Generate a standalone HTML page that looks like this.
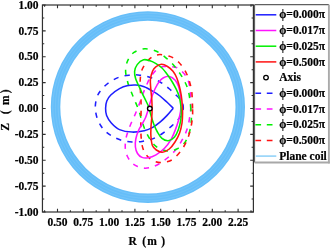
<!DOCTYPE html>
<html><head><meta charset="utf-8"><style>
html,body{margin:0;padding:0;background:#fff;width:330px;height:248px;overflow:hidden}
svg{display:block}
text{font-family:"Liberation Serif",serif;font-weight:bold;font-size:11.5px;fill:#000;stroke:#000;stroke-width:0.2px}
</style></head><body>
<svg width="330" height="248" viewBox="0 0 330 248">
<defs><filter id="nf" x="0" y="0" width="330" height="248" filterUnits="userSpaceOnUse"><feOffset/></filter></defs>
<rect width="330" height="248" fill="#fff"/>
<ellipse cx="147.9" cy="107.1" rx="92.35" ry="91.1" fill="none" stroke="#66BEF9" stroke-width="9.5"/>
<ellipse cx="147.9" cy="107.1" rx="89.75" ry="88.50" fill="none" stroke="#A8DBFB" stroke-width="0.8" stroke-opacity="0.30"/>
<ellipse cx="147.9" cy="107.1" rx="92.55" ry="91.30" fill="none" stroke="#A8DBFB" stroke-width="0.8" stroke-opacity="0.22"/>
<ellipse cx="147.9" cy="107.1" rx="95.15" ry="93.90" fill="none" stroke="#A8DBFB" stroke-width="0.8" stroke-opacity="0.30"/>
<path d="M183.30,108.50 C183.52,106.33 182.98,104.22 182.30,102.50 C181.62,100.78 180.33,99.52 179.20,98.20 C178.07,96.88 177.12,96.13 175.50,94.60 C173.88,93.07 171.70,90.87 169.50,89.00 C167.30,87.13 164.63,84.98 162.30,83.40 C159.97,81.82 158.05,80.67 155.50,79.50 C152.95,78.33 149.92,77.17 147.00,76.40 C144.08,75.63 140.98,75.10 138.00,74.90 C135.02,74.70 132.27,74.82 129.10,75.20 C125.93,75.58 122.32,76.00 119.00,77.20 C115.68,78.40 112.12,80.35 109.20,82.40 C106.28,84.45 103.53,87.07 101.50,89.50 C99.47,91.93 98.03,94.08 97.00,97.00 C95.97,99.92 95.33,103.67 95.30,107.00 C95.27,110.33 95.85,113.83 96.80,117.00 C97.75,120.17 99.43,123.50 101.00,126.00 C102.57,128.50 104.20,130.23 106.20,132.00 C108.20,133.77 110.48,135.23 113.00,136.60 C115.52,137.97 118.12,139.32 121.30,140.20 C124.48,141.08 128.65,141.70 132.10,141.90 C135.55,142.10 138.97,141.78 142.00,141.40 C145.03,141.02 147.72,140.40 150.30,139.60 C152.88,138.80 155.22,137.80 157.50,136.60 C159.78,135.40 161.83,134.00 164.00,132.40 C166.17,130.80 168.42,128.82 170.50,127.00 C172.58,125.18 174.75,123.42 176.50,121.50 C178.25,119.58 179.87,117.67 181.00,115.50 C182.13,113.33 183.08,110.67 183.30,108.50Z" fill="none" stroke="#1E1EFF" stroke-width="1.55" stroke-dasharray="5.20,6.238" stroke-dashoffset="0.40"/>
<path d="M190.70,108.50 C190.80,105.17 190.82,98.92 190.60,95.00 C190.38,91.08 190.03,87.90 189.40,85.00 C188.77,82.10 187.90,79.73 186.80,77.60 C185.70,75.47 184.38,73.83 182.80,72.20 C181.22,70.57 179.35,68.73 177.30,67.80 C175.25,66.87 172.80,66.80 170.50,66.60 C168.20,66.40 165.33,66.40 163.50,66.60 C161.67,66.80 160.83,67.10 159.50,67.80 C158.17,68.50 156.98,69.27 155.50,70.80 C154.02,72.33 152.03,74.75 150.60,77.00 C149.17,79.25 148.05,81.80 146.90,84.30 C145.75,86.80 144.72,89.35 143.70,92.00 C142.68,94.65 141.80,97.53 140.80,100.20 C139.80,102.87 138.80,105.27 137.70,108.00 C136.60,110.73 135.38,113.85 134.20,116.60 C133.02,119.35 131.70,121.85 130.60,124.50 C129.50,127.15 128.42,129.92 127.60,132.50 C126.78,135.08 126.08,137.33 125.70,140.00 C125.32,142.67 125.05,145.83 125.30,148.50 C125.55,151.17 126.17,153.67 127.20,156.00 C128.23,158.33 129.77,160.75 131.50,162.50 C133.23,164.25 135.35,165.55 137.60,166.50 C139.85,167.45 142.52,168.13 145.00,168.20 C147.48,168.27 150.00,167.72 152.50,166.90 C155.00,166.08 157.42,164.87 160.00,163.30 C162.58,161.73 165.47,159.65 168.00,157.50 C170.53,155.35 173.00,153.05 175.20,150.40 C177.40,147.75 179.43,144.57 181.20,141.60 C182.97,138.63 184.58,135.53 185.80,132.60 C187.02,129.67 187.80,126.93 188.50,124.00 C189.20,121.07 189.63,117.58 190.00,115.00 C190.37,112.42 190.60,111.83 190.70,108.50Z" fill="none" stroke="#FF12FF" stroke-width="1.55" stroke-dasharray="5.20,6.190" stroke-dashoffset="0.31"/>
<path d="M190.80,108.50 C190.53,105.25 190.27,102.17 189.80,99.00 C189.33,95.83 188.87,92.45 188.00,89.50 C187.13,86.55 185.93,83.95 184.60,81.30 C183.27,78.65 181.85,76.32 180.00,73.60 C178.15,70.88 175.85,67.63 173.50,65.00 C171.15,62.37 168.75,60.08 165.90,57.80 C163.05,55.52 159.92,52.80 156.40,51.30 C152.88,49.80 148.53,48.62 144.80,48.80 C141.07,48.98 136.87,50.40 134.00,52.40 C131.13,54.40 129.00,57.78 127.60,60.80 C126.20,63.82 125.72,67.53 125.60,70.50 C125.48,73.47 126.38,76.08 126.90,78.60 C127.42,81.12 127.93,83.28 128.70,85.60 C129.47,87.92 130.57,90.18 131.50,92.50 C132.43,94.82 133.33,97.17 134.30,99.50 C135.27,101.83 136.43,104.33 137.30,106.50 C138.17,108.67 138.78,110.25 139.50,112.50 C140.22,114.75 140.80,117.42 141.60,120.00 C142.40,122.58 143.32,125.53 144.30,128.00 C145.28,130.47 146.27,132.50 147.50,134.80 C148.73,137.10 150.28,139.87 151.70,141.80 C153.12,143.73 154.37,145.10 156.00,146.40 C157.63,147.70 159.65,148.83 161.50,149.60 C163.35,150.37 165.27,150.83 167.10,151.00 C168.93,151.17 170.60,151.07 172.50,150.60 C174.40,150.13 176.58,149.37 178.50,148.20 C180.42,147.03 182.45,145.47 184.00,143.60 C185.55,141.73 186.75,139.52 187.80,137.00 C188.85,134.48 189.70,131.58 190.30,128.50 C190.90,125.42 191.32,121.83 191.40,118.50 C191.48,115.17 191.07,111.75 190.80,108.50Z" fill="none" stroke="#00F000" stroke-width="1.55" stroke-dasharray="5.20,6.200" stroke-dashoffset="0.93"/>
<path d="M192.60,108.50 C192.55,106.00 192.43,102.75 192.30,100.00 C192.17,97.25 192.13,94.58 191.80,92.00 C191.47,89.42 190.93,87.00 190.30,84.50 C189.67,82.00 189.00,79.50 188.00,77.00 C187.00,74.50 185.88,72.00 184.30,69.50 C182.72,67.00 180.80,64.15 178.50,62.00 C176.20,59.85 173.62,57.83 170.50,56.60 C167.38,55.37 162.88,54.53 159.80,54.60 C156.72,54.67 154.33,55.57 152.00,57.00 C149.67,58.43 147.53,60.87 145.80,63.20 C144.07,65.53 142.53,68.20 141.60,71.00 C140.67,73.80 140.40,76.83 140.20,80.00 C140.00,83.17 140.27,86.67 140.40,90.00 C140.53,93.33 140.88,96.67 141.00,100.00 C141.12,103.33 141.12,106.67 141.10,110.00 C141.08,113.33 140.95,116.67 140.90,120.00 C140.85,123.33 140.72,126.67 140.80,130.00 C140.88,133.33 141.07,137.00 141.40,140.00 C141.73,143.00 142.10,145.67 142.80,148.00 C143.50,150.33 144.47,152.28 145.60,154.00 C146.73,155.72 148.12,157.10 149.60,158.30 C151.08,159.50 152.72,160.48 154.50,161.20 C156.28,161.92 158.38,162.47 160.30,162.60 C162.22,162.73 163.97,162.52 166.00,162.00 C168.03,161.48 170.08,161.25 172.50,159.50 C174.92,157.75 178.22,154.42 180.50,151.50 C182.78,148.58 184.65,145.25 186.20,142.00 C187.75,138.75 188.87,135.25 189.80,132.00 C190.73,128.75 191.33,125.33 191.80,122.50 C192.27,119.67 192.47,117.33 192.60,115.00 C192.73,112.67 192.65,111.00 192.60,108.50Z" fill="none" stroke="#FF1212" stroke-width="1.55" stroke-dasharray="5.20,6.176" stroke-dashoffset="0.23"/>
<path d="M173.30,108.20 C172.27,109.40 169.27,113.12 167.10,115.40 C164.93,117.68 162.70,119.90 160.30,121.90 C157.90,123.90 155.38,125.93 152.70,127.40 C150.02,128.87 147.63,129.92 144.20,130.70 C140.77,131.48 136.22,132.28 132.10,132.10 C127.98,131.92 122.97,131.12 119.50,129.60 C116.03,128.08 113.45,125.35 111.30,123.00 C109.15,120.65 107.55,117.95 106.60,115.50 C105.65,113.05 105.57,110.72 105.60,108.30 C105.63,105.88 105.93,103.22 106.80,101.00 C107.67,98.78 108.68,97.07 110.80,95.00 C112.92,92.93 116.63,90.17 119.50,88.60 C122.37,87.03 125.25,86.20 128.00,85.60 C130.75,85.00 133.30,84.80 136.00,85.00 C138.70,85.20 141.42,85.77 144.20,86.80 C146.98,87.83 150.07,89.67 152.70,91.20 C155.33,92.73 157.60,94.15 160.00,96.00 C162.40,97.85 164.88,100.27 167.10,102.30 C169.32,104.33 172.27,107.22 173.30,108.20" fill="none" stroke="#1E1EFF" stroke-width="1.55"/>
<path d="M169.50,76.40 C171.45,76.80 173.68,78.52 175.20,80.20 C176.72,81.88 177.73,84.03 178.60,86.50 C179.47,88.97 180.02,92.08 180.40,95.00 C180.78,97.92 180.87,101.33 180.90,104.00 C180.93,106.67 180.98,108.33 180.60,111.00 C180.22,113.67 179.45,116.93 178.60,120.00 C177.75,123.07 176.77,126.13 175.50,129.40 C174.23,132.67 172.83,136.47 171.00,139.60 C169.17,142.73 167.00,145.67 164.50,148.20 C162.00,150.73 158.75,153.20 156.00,154.80 C153.25,156.40 150.33,157.37 148.00,157.80 C145.67,158.23 143.75,158.12 142.00,157.40 C140.25,156.68 138.60,155.23 137.50,153.50 C136.40,151.77 135.68,149.42 135.40,147.00 C135.12,144.58 135.25,141.83 135.80,139.00 C136.35,136.17 137.65,132.50 138.70,130.00 C139.75,127.50 140.95,126.08 142.10,124.00 C143.25,121.92 144.68,119.58 145.60,117.50 C146.52,115.42 146.90,113.78 147.60,111.50 C148.30,109.22 149.02,106.47 149.80,103.80 C150.58,101.13 151.40,98.05 152.30,95.50 C153.20,92.95 154.12,90.72 155.20,88.50 C156.28,86.28 157.42,83.98 158.80,82.20 C160.18,80.42 161.72,78.77 163.50,77.80 C165.28,76.83 167.55,76.00 169.50,76.40Z" fill="none" stroke="#FF12FF" stroke-width="1.55"/>
<path d="M143.60,59.80 C145.73,59.17 147.93,60.17 150.00,60.80 C152.07,61.43 154.00,62.40 156.00,63.60 C158.00,64.80 160.08,66.15 162.00,68.00 C163.92,69.85 165.78,72.37 167.50,74.70 C169.22,77.03 170.85,79.58 172.30,82.00 C173.75,84.42 175.08,86.87 176.20,89.20 C177.32,91.53 178.27,93.53 179.00,96.00 C179.73,98.47 180.22,101.33 180.60,104.00 C180.98,106.67 181.30,109.17 181.30,112.00 C181.30,114.83 181.12,118.00 180.60,121.00 C180.08,124.00 179.23,127.30 178.20,130.00 C177.17,132.70 176.05,135.42 174.40,137.20 C172.75,138.98 170.37,140.50 168.30,140.70 C166.23,140.90 163.82,139.85 162.00,138.40 C160.18,136.95 158.75,134.32 157.40,132.00 C156.05,129.68 154.97,127.25 153.90,124.50 C152.83,121.75 151.88,118.45 151.00,115.50 C150.12,112.55 149.43,109.22 148.60,106.80 C147.77,104.38 147.10,103.33 146.00,101.00 C144.90,98.67 143.23,95.38 142.00,92.80 C140.77,90.22 139.67,87.88 138.60,85.50 C137.53,83.12 136.27,80.83 135.60,78.50 C134.93,76.17 134.33,73.82 134.60,71.50 C134.87,69.18 135.70,66.55 137.20,64.60 C138.70,62.65 141.47,60.43 143.60,59.80Z" fill="none" stroke="#00F000" stroke-width="1.55"/>
<path d="M161.50,64.30 C163.45,64.25 165.58,65.33 167.50,66.50 C169.42,67.67 171.45,69.38 173.00,71.30 C174.55,73.22 175.75,75.55 176.80,78.00 C177.85,80.45 178.57,83.17 179.30,86.00 C180.03,88.83 180.70,91.83 181.20,95.00 C181.70,98.17 182.07,102.00 182.30,105.00 C182.53,108.00 182.65,110.00 182.60,113.00 C182.55,116.00 182.50,119.67 182.00,123.00 C181.50,126.33 180.77,129.83 179.60,133.00 C178.43,136.17 176.72,139.33 175.00,142.00 C173.28,144.67 171.42,147.30 169.30,149.00 C167.18,150.70 164.47,152.03 162.30,152.20 C160.13,152.37 157.95,151.12 156.30,150.00 C154.65,148.88 153.30,147.83 152.40,145.50 C151.50,143.17 151.13,139.08 150.90,136.00 C150.67,132.92 150.87,130.00 151.00,127.00 C151.13,124.00 151.52,120.83 151.70,118.00 C151.88,115.17 152.08,113.00 152.10,110.00 C152.12,107.00 152.02,103.50 151.80,100.00 C151.58,96.50 151.03,92.42 150.80,89.00 C150.57,85.58 150.10,82.50 150.40,79.50 C150.70,76.50 151.70,73.12 152.60,71.00 C153.50,68.88 154.32,67.92 155.80,66.80 C157.28,65.68 159.55,64.35 161.50,64.30Z" fill="none" stroke="#FF1212" stroke-width="1.55"/>
<circle cx="149.8" cy="108.5" r="2.3" fill="#fff" stroke="#000" stroke-width="1.35"/>
<rect x="42.45" y="5.00" width="210.95" height="207.00" fill="none" stroke="#303030" stroke-width="1.2"/>
<path d="M44.60,212.00v-1.8M44.60,5.00v1.8M57.50,212.00v-3.2M57.50,5.00v3.2M70.40,212.00v-1.8M70.40,5.00v1.8M83.30,212.00v-3.2M83.30,5.00v3.2M96.20,212.00v-1.8M96.20,5.00v1.8M109.10,212.00v-3.2M109.10,5.00v3.2M122.00,212.00v-1.8M122.00,5.00v1.8M134.90,212.00v-3.2M134.90,5.00v3.2M147.80,212.00v-1.8M147.80,5.00v1.8M160.70,212.00v-3.2M160.70,5.00v3.2M173.60,212.00v-1.8M173.60,5.00v1.8M186.50,212.00v-3.2M186.50,5.00v3.2M199.40,212.00v-1.8M199.40,5.00v1.8M212.30,212.00v-3.2M212.30,5.00v3.2M225.20,212.00v-1.8M225.20,5.00v1.8M238.10,212.00v-3.2M238.10,5.00v3.2M251.00,212.00v-1.8M251.00,5.00v1.8M42.45,5.00h3.2M253.40,5.00h-3.2M42.45,17.94h1.8M253.40,17.94h-1.8M42.45,30.88h3.2M253.40,30.88h-3.2M42.45,43.81h1.8M253.40,43.81h-1.8M42.45,56.75h3.2M253.40,56.75h-3.2M42.45,69.69h1.8M253.40,69.69h-1.8M42.45,82.62h3.2M253.40,82.62h-3.2M42.45,95.56h1.8M253.40,95.56h-1.8M42.45,108.50h3.2M253.40,108.50h-3.2M42.45,121.44h1.8M253.40,121.44h-1.8M42.45,134.38h3.2M253.40,134.38h-3.2M42.45,147.31h1.8M253.40,147.31h-1.8M42.45,160.25h3.2M253.40,160.25h-3.2M42.45,173.19h1.8M253.40,173.19h-1.8M42.45,186.12h3.2M253.40,186.12h-3.2M42.45,199.06h1.8M253.40,199.06h-1.8M42.45,212.00h3.2M253.40,212.00h-3.2" stroke="#303030" stroke-width="1.1" fill="none"/>
<g filter="url(#nf)">
<text x="38.6" y="8.70" text-anchor="end">1.00</text>
<text x="38.6" y="34.58" text-anchor="end">0.75</text>
<text x="38.6" y="60.45" text-anchor="end">0.50</text>
<text x="38.6" y="86.33" text-anchor="end">0.25</text>
<text x="38.6" y="112.20" text-anchor="end">0.00</text>
<text x="38.6" y="138.07" text-anchor="end">-0.25</text>
<text x="38.6" y="163.95" text-anchor="end">-0.50</text>
<text x="38.6" y="189.82" text-anchor="end">-0.75</text>
<text x="38.6" y="215.70" text-anchor="end">-1.00</text>
<text x="57.50" y="225.5" text-anchor="middle">0.50</text>
<text x="83.30" y="225.5" text-anchor="middle">0.75</text>
<text x="109.10" y="225.5" text-anchor="middle">1.00</text>
<text x="134.90" y="225.5" text-anchor="middle">1.25</text>
<text x="160.70" y="225.5" text-anchor="middle">1.50</text>
<text x="186.50" y="225.5" text-anchor="middle">1.75</text>
<text x="212.30" y="225.5" text-anchor="middle">2.00</text>
<text x="238.10" y="225.5" text-anchor="middle">2.25</text>
<text y="244.6"><tspan x="128.6">R</tspan><tspan x="142.2">(</tspan><tspan x="147.2">m</tspan><tspan x="161.3">)</tspan></text>
<text transform="translate(9.0,0) rotate(-90)" y="0"><tspan x="-130.8">Z</tspan><tspan x="-114.2">(</tspan><tspan x="-105.1">m</tspan><tspan x="-93.3">)</tspan></text>
</g>
<rect x="254.60" y="4.70" width="74.30" height="157.80" fill="#fff"/>
<path d="M254.60,4.70V162.50" stroke="#505050" stroke-width="1"/>
<path d="M254.60,4.70H328.90" stroke="#606060" stroke-width="1.2"/>
<path d="M328.90,4.70V163.40" stroke="#aaa" stroke-width="1.9"/>
<path d="M254.60,162.50H329.85" stroke="#a8a8a8" stroke-width="1.8"/>
<path d="M255.7,14.80H276.3" stroke="#1E1EFF" stroke-width="1.5"/>
<path d="M255.7,30.50H276.3" stroke="#FF12FF" stroke-width="1.5"/>
<path d="M255.7,46.20H276.3" stroke="#00F000" stroke-width="1.5"/>
<path d="M255.7,61.90H276.3" stroke="#FF1212" stroke-width="1.5"/>
<circle cx="266" cy="77.60" r="2.3" fill="#fff" stroke="#000" stroke-width="1.3"/>
<path d="M255.4,93.30H276.3" stroke="#1E1EFF" stroke-width="1.5" stroke-dasharray="5.7,5.7"/>
<path d="M255.4,109.00H276.3" stroke="#FF12FF" stroke-width="1.5" stroke-dasharray="5.7,5.7"/>
<path d="M255.4,124.70H276.3" stroke="#00F000" stroke-width="1.5" stroke-dasharray="5.7,5.7"/>
<path d="M255.4,140.40H276.3" stroke="#FF1212" stroke-width="1.5" stroke-dasharray="5.7,5.7"/>
<path d="M255.8,156.10H276.3" stroke="#8CD0F8" stroke-width="1.5"/>
<g filter="url(#nf)">
<text x="279.2" y="18.40">ϕ=0.000π</text>
<text x="279.2" y="34.10">ϕ=0.017π</text>
<text x="279.2" y="49.80">ϕ=0.025π</text>
<text x="279.2" y="65.50">ϕ=0.500π</text>
<text x="279.2" y="81.20">Axis</text>
<text x="279.2" y="96.90">ϕ=0.000π</text>
<text x="279.2" y="112.60">ϕ=0.017π</text>
<text x="279.2" y="128.30">ϕ=0.025π</text>
<text x="279.2" y="144.00">ϕ=0.500π</text>
<text x="279.2" y="159.70">Plane coil</text>
</g>
</svg>
</body></html>
